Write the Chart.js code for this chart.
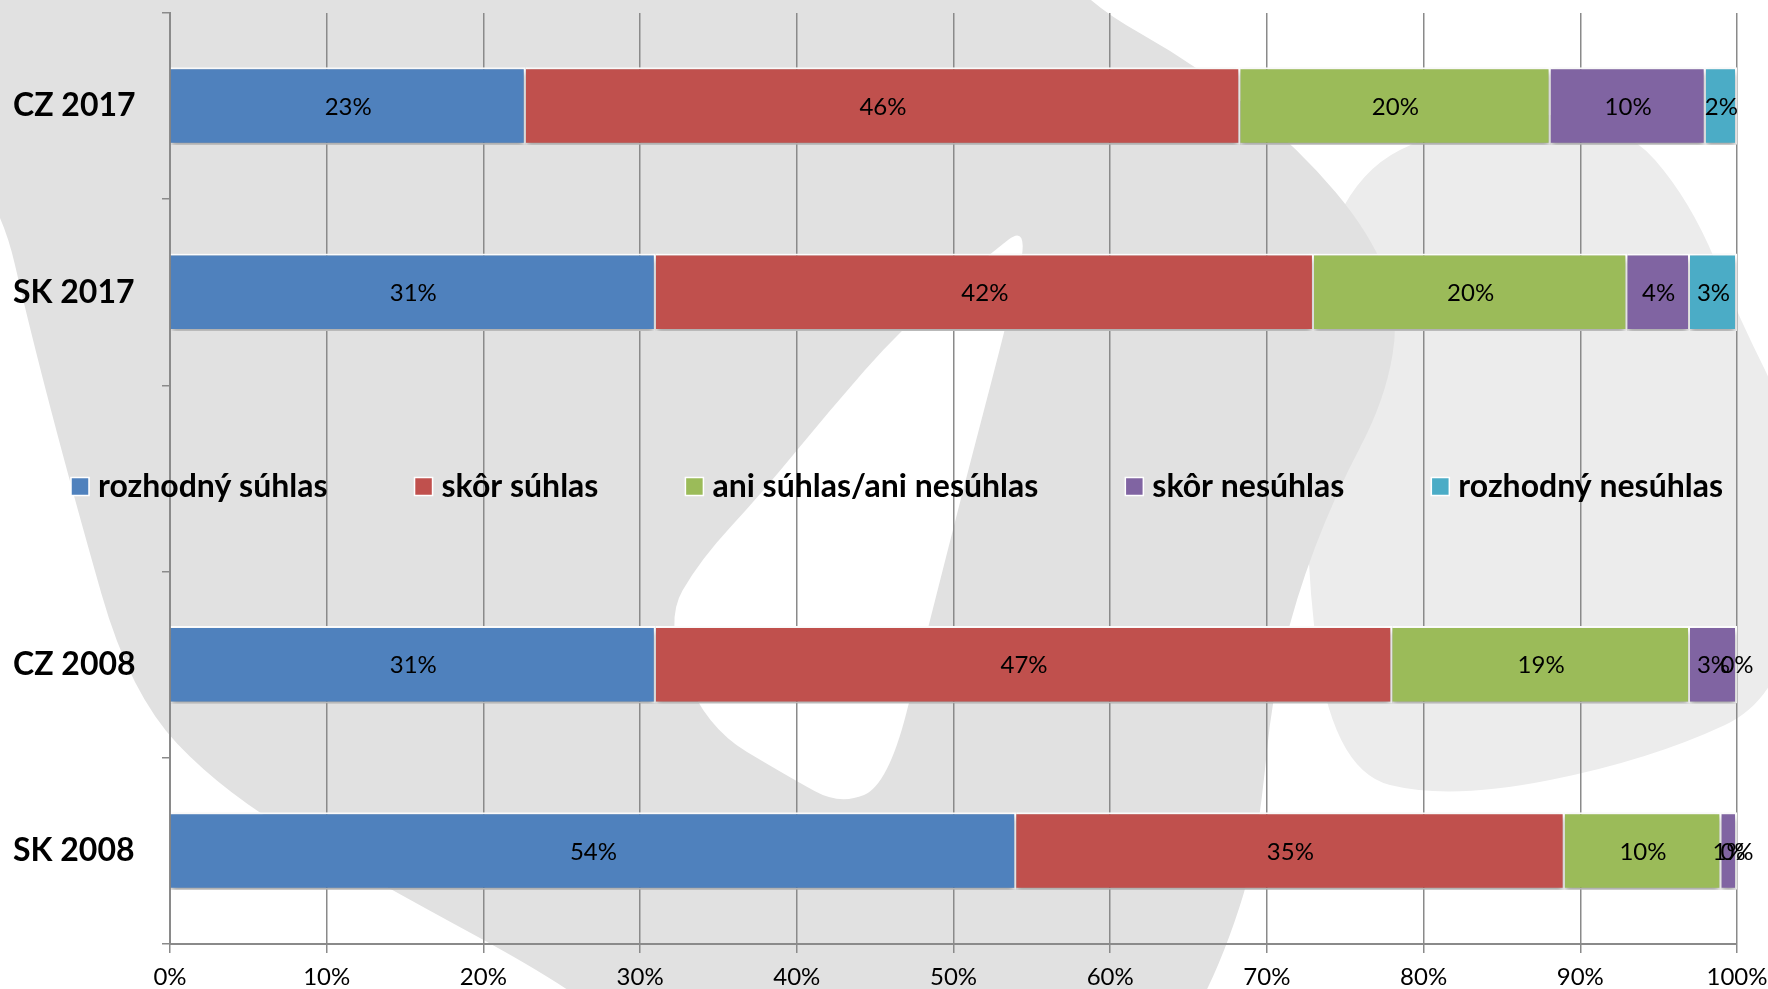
<!DOCTYPE html>
<html>
<head>
<meta charset="utf-8">
<script src="https://cdn.jsdelivr.net/npm/chart.js@4/dist/chart.umd.min.js"></script>
<style>
  html, body { margin: 0; padding: 0; background: #fff; }
  canvas { display: block; }
</style>
</head>
<body>
<canvas id="chart" width="1768" height="989"></canvas>
<script>
// kategórie (prázdna pozícia v strede je miesto pre legendu)
const categories = ["CZ 2017", "SK 2017", "", "CZ 2008", "SK 2008"];
const seriesNames = ["rozhodný súhlas", "skôr súhlas", "ani súhlas/ani nesúhlas", "skôr nesúhlas", "rozhodný nesúhlas"];
const seriesColors = ["#4f81bd", "#c0504d", "#9bbb59", "#8064a2", "#4bacc6"];

// hodnoty v % podľa kategórií
const rozhodnySuhlas   = [22.7, 31, null, 31, 54];
const skorSuhlas       = [45.6, 42, null, 47, 35];
const aniAni           = [19.8, 20, null, 19, 10];
const skorNesuhlas     = [9.9, 4, null, 3, 1];
const rozhodnyNesuhlas = [2.0, 3, null, 0, 0];

const xTicks = [0, 10, 20, 30, 40, 50, 60, 70, 80, 90, 100];

const FONT = "Lato, 'Liberation Sans', sans-serif";

// pozadie - sivý vodoznak
function smoothShape(ctx, pts) {
  const n = pts.length;
  const mid = (a, b) => [(a[0] + b[0]) / 2, (a[1] + b[1]) / 2];
  let start = mid(pts[n - 1], pts[0]);
  ctx.beginPath();
  ctx.moveTo(start[0], start[1]);
  for (let i = 0; i < n; i++) {
    const p = pts[i];
    const m = mid(p, pts[(i + 1) % n]);
    ctx.quadraticCurveTo(p[0], p[1], m[0], m[1]);
  }
  ctx.closePath();
  ctx.fill();
}

const watermark = {
  id: "watermark",
  beforeDraw(chart) {
    const ctx = chart.ctx;
    ctx.save();
    ctx.fillStyle = "#ffffff";
    ctx.fillRect(0, 0, chart.width, chart.height);
    ctx.fillStyle = "#ececec";
    smoothShape(ctx, [[1320, 190], [1480, 110], [1620, 120], [1690, 200], [1740, 320], [1790, 420],
      [1800, 690], [1650, 760], [1450, 800], [1330, 770], [1300, 500]]);
    ctx.fillStyle = "#e1e1e1";
    smoothShape(ctx, [[-60, -60], [1050, -60], [1081, 0], [1200, 67], [1300, 150], [1370, 233],
      [1400, 310], [1385, 400], [1335, 495], [1295, 600], [1272, 700], [1262, 800], [1250, 880],
      [1210, 989], [1170, 1050], [640, 1050], [574, 989], [373, 880], [225, 794], [130, 694],
      [73, 494], [30, 330], [0, 200], [-60, 150]]);
    ctx.fillStyle = "#ffffff";
    smoothShape(ctx, [[1031, 222], [1005, 330], [962, 494], [925, 640], [888, 785], [840, 805],
      [789, 777], [705, 727], [665, 621], [700, 560], [761, 494], [830, 410], [900, 330], [985, 258]]);
    ctx.restore();
  }
};

// tieň pod pruhmi
const barShadow = {
  id: "barShadow",
  beforeDatasetsDraw(chart) {
    const ctx = chart.ctx;
    ctx.save();
    ctx.shadowColor = "rgba(0,0,0,0.35)";
    ctx.shadowBlur = 6;
    ctx.shadowOffsetY = 4;
  },
  afterDatasetsDraw(chart) {
    chart.ctx.restore();
  }
};

// popisky hodnôt v pruhoch
const barLabels = {
  id: "barLabels",
  afterDraw(chart) {
    const ctx = chart.ctx;
    ctx.save();
    ctx.font = "24px " + FONT;
    ctx.fillStyle = "#000";
    ctx.textAlign = "center";
    ctx.textBaseline = "middle";
    chart.data.datasets.forEach((ds, i) => {
      chart.getDatasetMeta(i).data.forEach((bar, j) => {
        const v = ds.data[j];
        if (v === null || v === undefined) return;
        const { x, y, base } = bar.getProps(["x", "y", "base"], true);
        ctx.fillText(Math.round(v) + "%", (x + base) / 2, y + 1);
      });
    });
    ctx.restore();
  }
};

// legenda v prázdnom riadku
const middleLegend = {
  id: "middleLegend",
  afterDraw(chart) {
    const ctx = chart.ctx;
    const y = chart.scales.y.getPixelForValue(2) + 8;
    const left = 71, right = 1723, box = 18, pad = 9;
    ctx.save();
    ctx.font = "bold 32px " + FONT;
    const widths = seriesNames.map((s) => ctx.measureText(s).width);
    const used = widths.reduce((a, w) => a + w + box + pad, 0);
    const gap = (right - left - used) / (seriesNames.length - 1);
    let x = left;
    ctx.textBaseline = "middle";
    ctx.textAlign = "left";
    seriesNames.forEach((s, i) => {
      ctx.fillStyle = seriesColors[i];
      ctx.fillRect(x, y - box / 2, box, box);
      ctx.strokeStyle = "#fff";
      ctx.lineWidth = 1.5;
      ctx.strokeRect(x, y - box / 2, box, box);
      ctx.fillStyle = "#000";
      ctx.fillText(s, x + box + pad, y);
      x += box + pad + widths[i] + gap;
    });
    ctx.restore();
  }
};

const seriesValues = [rozhodnySuhlas, skorSuhlas, aniAni, skorNesuhlas, rozhodnyNesuhlas];

new Chart(document.getElementById("chart"), {
  type: "bar",
  data: {
    labels: categories,
    datasets: seriesNames.map((name, i) => ({
      label: name,
      data: seriesValues[i],
      backgroundColor: seriesColors[i],
      borderColor: "#ffffff",
      borderWidth: 2,
      categoryPercentage: 0.8,
      barPercentage: 0.52
    }))
  },
  options: {
    indexAxis: "y",
    responsive: false,
    animation: false,
    devicePixelRatio: 1,
    layout: { padding: { left: 13, top: 13, right: 31, bottom: 0 } },
    plugins: {
      legend: { display: false },
      tooltip: { enabled: false }
    },
    scales: {
      x: {
        stacked: true,
        min: 0,
        max: 100,
        afterBuildTicks(scale) {
          scale.ticks = xTicks.map((v) => ({ value: v }));
        },
        afterFit(scale) {
          scale.height = 45;
          scale.paddingLeft = 0;
          scale.paddingRight = 0;
        },
        ticks: {
          callback: (v) => v + "%",
          font: { family: FONT, size: 24 },
          color: "#000",
          padding: 10,
          maxRotation: 0
        },
        grid: { color: "#8a8a8a", lineWidth: 1.5, tickLength: 9 },
        border: { color: "#8a8a8a", width: 2 }
      },
      y: {
        stacked: true,
        afterFit(scale) {
          scale.width = 157;
          scale.paddingTop = 0;
          scale.paddingBottom = 0;
        },
        ticks: {
          font: { family: FONT, size: 32, weight: "bold" },
          color: "#000",
          crossAlign: "far"
        },
        grid: { drawOnChartArea: false, color: "#8a8a8a", lineWidth: 1.5, tickLength: 8, offset: true },
        border: { color: "#8a8a8a", width: 2 }
      }
    }
  },
  plugins: [watermark, barShadow, barLabels, middleLegend]
});
</script>
</body>
</html>
